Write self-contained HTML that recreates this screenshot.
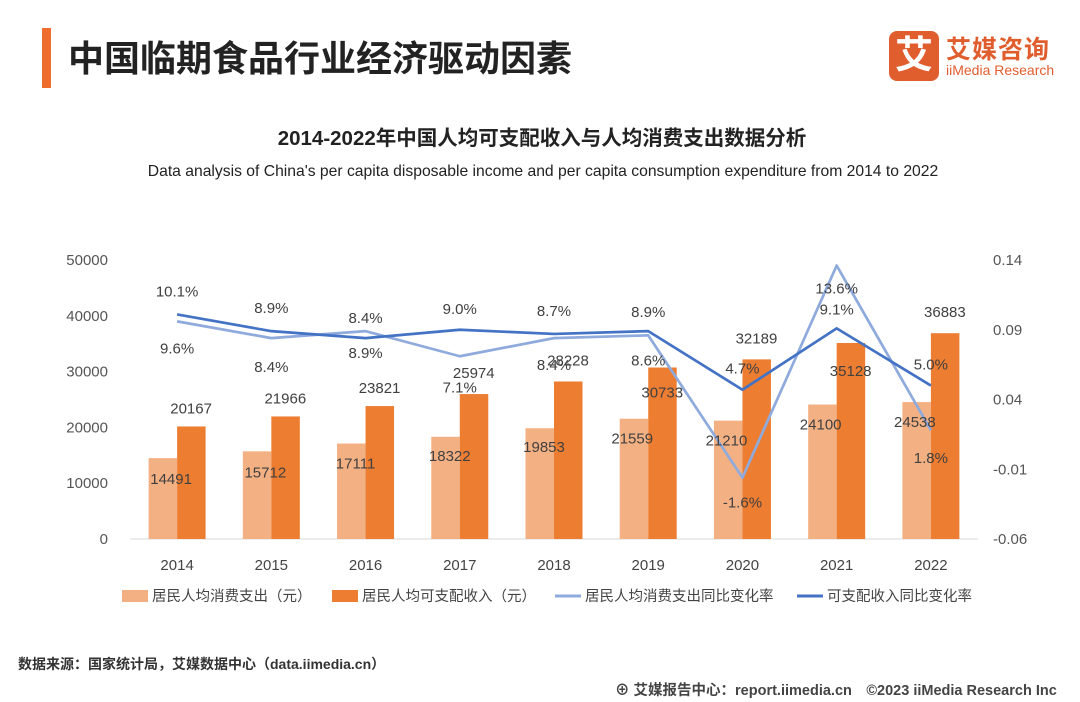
<!DOCTYPE html>
<html><head><meta charset="utf-8">
<style>
body{margin:0;width:1080px;height:702px;background:#fff;font-family:"Liberation Sans","Noto Sans CJK SC",sans-serif;overflow:hidden;position:relative}
.abs{position:absolute}
</style></head><body>
<div class="abs" style="left:42px;top:28px;width:9px;height:60px;background:#ee6c2e"></div>
<div class="abs" style="left:68px;top:30px;font-size:36px;font-weight:bold;color:#222">中国临期食品行业经济驱动因素</div>
<div class="abs" style="left:889px;top:31px;width:50px;height:50px;background:#e05d2e;border-radius:8px;color:#fff;font-size:38px;font-weight:bold;text-align:center;line-height:50px">艾</div>
<div class="abs" style="left:946px;top:30px;font-size:25px;font-weight:bold;color:#e05d2e;letter-spacing:1px">艾媒咨询</div>
<div class="abs" style="left:946px;top:62px;font-size:14px;color:#e05d2e">iiMedia Research</div>

<svg class="abs" style="left:0;top:0" width="1080" height="702" id="chart">
<text x="542" y="145" text-anchor="middle" font-size="20.5" font-weight="bold" fill="#222">2014-2022年中国人均可支配收入与人均消费支出数据分析</text>
<text x="543" y="176" text-anchor="middle" font-size="15.7" fill="#222">Data analysis of China's per capita disposable income and per capita consumption expenditure from 2014 to 2022</text>
<g id="g"></g>
</svg>

<div class="abs" style="left:18px;top:654px;font-size:14px;font-weight:bold;color:#333">数据来源：国家统计局，艾媒数据中心（data.iimedia.cn）</div>
<div class="abs" style="left:615px;top:679px;font-size:14.5px;font-weight:bold;color:#444">⊕ 艾媒报告中心：report.iimedia.cn　©2023  iiMedia Research  Inc</div>

<script>
const years=["2014","2015","2016","2017","2018","2019","2020","2021","2022"];
const consumption=[14491,15712,17111,18322,19853,21559,21210,24100,24538];
const income=[20167,21966,23821,25974,28228,30733,32189,35128,36883];
const consGrowth=[0.096,0.084,0.089,0.071,0.084,0.086,-0.016,0.136,0.018];
const incGrowth=[0.101,0.089,0.084,0.090,0.087,0.089,0.047,0.091,0.050];
const leftTicks=[0,10000,20000,30000,40000,50000];
const rightTicks=[-0.06,-0.01,0.04,0.09,0.14];

const NS="http://www.w3.org/2000/svg";
const g=document.getElementById('g');
const x0=130,x1=978,yB=539,yT=260;
const step=(x1-x0)/years.length;
const xc=i=>x0+step*(i+0.5);
const yL=v=>yB-(v/50000)*(yB-yT);
const yR=v=>yB-((v+0.06)/0.2)*(yB-yT);
function el(t,a){const e=document.createElementNS(NS,t);for(const k in a)e.setAttribute(k,a[k]);g.appendChild(e);return e;}
function txt(x,y,s,o){const e=el('text',Object.assign({x:x,y:y,'font-size':15,fill:'#404040','text-anchor':'middle'},o||{}));e.textContent=s;return e;}

leftTicks.forEach(v=>{const t=txt(108,yL(v)+5,String(v),{'text-anchor':'end',fill:'#555'});

});
rightTicks.forEach(v=>{const t=txt(993,yR(v)+5,v.toFixed(2),{'text-anchor':'start',fill:'#555'});

});
const ax=el('line',{x1:x0,y1:yB,x2:x1,y2:yB,stroke:'#d9d9d9','stroke-width':1});



const bw=28.5;
years.forEach((y,i)=>{
  const c=xc(i);
  const b1=el('rect',{x:c-bw,y:yL(consumption[i]),width:bw,height:yB-yL(consumption[i]),fill:'#f3b083'});
  
  
  const b2=el('rect',{x:c,y:yL(income[i]),width:bw,height:yB-yL(income[i]),fill:'#ed7d31'});
  
  
  const t=txt(c,570,y,{fill:'#444'});
  
  
});

function line(vals,color,name){
  const p=el('polyline',{points:vals.map((v,i)=>xc(i)+','+yR(v)).join(' '),fill:'none',stroke:color,'stroke-width':2.7,'stroke-linejoin':'round'});
  
  
}
line(consGrowth,'#8faadc','line-consumption-growth');
line(incGrowth,'#4472c4','line-income-growth');

const consLblDy=[32,34,27,36,32,30,30,28,33];
const incLblDy=[-18,-18,-15,-16,-18,-14,-16,-14,-16];
const consBarDx=[-6,-6,-10,-10,-10,-16,-16,-16,-16];
const incBarDy=[-13,-13,-13,-16,-16,30,-16,33,-16];
const consBarDy=[26,26,25,24,24,25,25,25,25];
years.forEach((y,i)=>{
  const c=xc(i);
  let t=txt(c,yR(consGrowth[i])+consLblDy[i],(consGrowth[i]*100).toFixed(1)+'%');
  
  
  t=txt(c,yR(incGrowth[i])+incLblDy[i],(incGrowth[i]*100).toFixed(1)+'%');
  
  
  t=txt(c+consBarDx[i],yL(consumption[i])+consBarDy[i],String(consumption[i]));
  
  
  t=txt(c+14,yL(income[i])+incBarDy[i],String(income[i]));
  
  
});

const leg=[['rect','#f3b083','居民人均消费支出（元）',122],['rect','#ed7d31','居民人均可支配收入（元）',332],['line','#8faadc','居民人均消费支出同比变化率',555],['line','#4472c4','可支配收入同比变化率',797]];
leg.forEach(l=>{
  if(l[0]==='rect'){const r=el('rect',{x:l[3],y:590,width:26,height:12,fill:l[1]});
    
    }
  else{const r=el('line',{x1:l[3],y1:596,x2:l[3]+26,y2:596,stroke:l[1],'stroke-width':3});
    
    }
  const t=txt(l[3]+30,601,l[2],{'text-anchor':'start',fill:'#444','font-size':14.5});
  
  
});
</script>
</body></html>
